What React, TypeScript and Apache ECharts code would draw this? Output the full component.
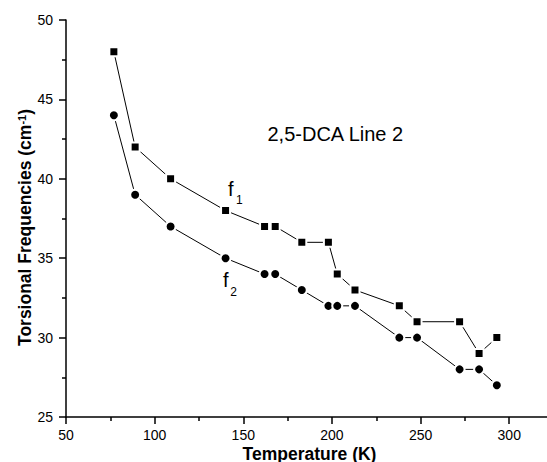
import React, { useEffect, useRef } from 'react';
import * as echarts from 'echarts';

const temperatures = [77, 89, 109, 140, 162, 168, 183, 198, 203, 213, 238, 248, 272, 283, 293];
const f1Values = [48, 42, 40, 38, 37, 37, 36, 36, 34, 33, 32, 31, 31, 29, 30];
const f2Values = [44, 39, 37, 35, 34, 34, 33, 32, 32, 32, 30, 30, 28, 28, 27];
const xMajorTicks = [50, 100, 150, 200, 250, 300];
const xMinorTicks = [75, 125, 175, 225, 275];

const FONT = 'Liberation Sans, Arial, Helvetica, sans-serif';

export default function App() {
  const ref = useRef<HTMLDivElement>(null);

  useEffect(() => {
    if (!ref.current) return;
    const chart = echarts.init(ref.current, undefined, { renderer: 'svg' });
    const f1Data = temperatures.map((t, i) => [t, f1Values[i]]);
    const f2Data = temperatures.map((t, i) => [t, f2Values[i]]);
    const axisColor = '#000';
    chart.setOption({
      animation: false,
      backgroundColor: '#fff',
      grid: { left: 66, top: 20, right: 0, bottom: 45, containLabel: false },
      xAxis: [
        {
          type: 'value',
          min: 50,
          max: 321.3,
          interval: 50,
          axisLine: { show: true, onZero: false, lineStyle: { color: axisColor, width: 1.5 } },
          axisTick: { show: true, customValues: xMajorTicks, length: 7, lineStyle: { color: axisColor, width: 1.5 } },
          axisLabel: { customValues: xMajorTicks, margin: 11, fontSize: 14, color: '#000', fontFamily: FONT },
          splitLine: { show: false },
        },
        {
          type: 'value',
          position: 'bottom',
          min: 50,
          max: 321.3,
          interval: 50,
          axisLine: { show: false, onZero: false },
          axisTick: { show: true, customValues: xMinorTicks, length: 4, lineStyle: { color: axisColor, width: 1.5 } },
          axisLabel: { show: false },
          splitLine: { show: false },
        },
      ],
      yAxis: {
        type: 'value',
        min: 25,
        max: 50,
        interval: 5,
        axisLine: { show: true, onZero: false, lineStyle: { color: axisColor, width: 1.5 } },
        axisTick: { show: true, length: 7, lineStyle: { color: axisColor, width: 1.5 } },
        minorTick: { show: true, splitNumber: 2, length: 4, lineStyle: { color: axisColor, width: 1.5 } },
        axisLabel: { margin: 13, fontSize: 14, color: '#000', fontFamily: FONT },
        splitLine: { show: false },
        minorSplitLine: { show: false },
      },
      series: [
        {
          name: 'f1',
          type: 'line',
          data: f1Data,
          symbol: 'rect',
          symbolSize: 9,
          lineStyle: { color: '#000', width: 1 },
          itemStyle: { color: '#000', borderColor: '#fff', borderWidth: 2 },
          z: 3,
        },
        {
          name: 'f2',
          type: 'line',
          data: f2Data,
          symbol: 'circle',
          symbolSize: 10,
          lineStyle: { color: '#000', width: 1 },
          itemStyle: { color: '#000', borderColor: '#fff', borderWidth: 2 },
          z: 3,
        },
      ],
      graphic: [
        {
          type: 'text',
          x: 267.5,
          y: 134,
          style: { text: '2,5-DCA Line 2', fontSize: 20, fontFamily: FONT, fill: '#000', align: 'left', verticalAlign: 'middle' },
        },
        {
          type: 'text',
          x: 228,
          y: 189,
          style: { text: 'f', fontSize: 20, fontFamily: FONT, fill: '#000', align: 'left', verticalAlign: 'middle' },
        },
        {
          type: 'text',
          x: 236,
          y: 200,
          style: { text: '1', fontSize: 12, fontFamily: FONT, fill: '#000', align: 'left', verticalAlign: 'middle' },
        },
        {
          type: 'text',
          x: 223,
          y: 279.5,
          style: { text: 'f', fontSize: 20, fontFamily: FONT, fill: '#000', align: 'left', verticalAlign: 'middle' },
        },
        {
          type: 'text',
          x: 230.2,
          y: 291.5,
          style: { text: '2', fontSize: 12, fontFamily: FONT, fill: '#000', align: 'left', verticalAlign: 'middle' },
        },
        {
          type: 'text',
          x: 309.5,
          y: 453.5,
          style: { text: 'Temperature (K)', fontSize: 17.5, fontWeight: 'bold', fontFamily: FONT, fill: '#000', align: 'center', verticalAlign: 'middle' },
        },
        {
          type: 'text',
          x: 25,
          y: 227.5,
          rotation: Math.PI / 2,
          style: {
            text: '{a|Torsional Frequencies (cm}{b|-1}{a|)}',
            fill: '#000',
            align: 'center',
            verticalAlign: 'middle',
            rich: {
              a: { fontSize: 17.5, fontWeight: 'bold', fontFamily: FONT, fill: '#000' },
              b: { fontSize: 11, fontWeight: 'bold', fontFamily: FONT, fill: '#000', verticalAlign: 'top' },
            },
          },
        },
      ],
    });
    return () => chart.dispose();
  }, []);

  return <div ref={ref} style={{ position: 'fixed', left: 0, top: 0, width: 547, height: 462 }} />;
}
